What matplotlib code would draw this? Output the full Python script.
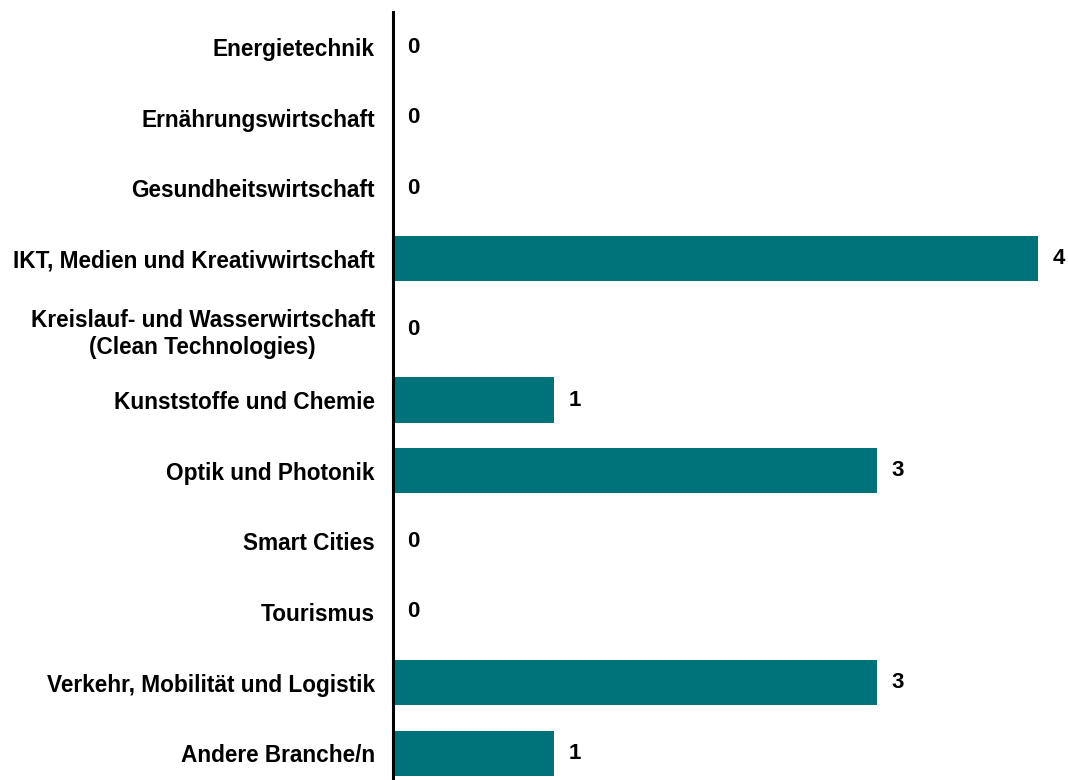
import matplotlib.pyplot as plt

categories = [
    "Energietechnik",
    "Ernährungswirtschaft",
    "Gesundheitswirtschaft",
    "IKT, Medien und Kreativwirtschaft",
    "Kreislauf- und Wasserwirtschaft\n(Clean Technologies)",
    "Kunststoffe und Chemie",
    "Optik und Photonik",
    "Smart Cities",
    "Tourismus",
    "Verkehr, Mobilität und Logistik",
    "Andere Branche/n",
]
values = [0, 0, 0, 4, 0, 1, 3, 0, 0, 3, 1]

plt.rcParams['font.family'] = ['Liberation Sans', 'DejaVu Sans']

fig = plt.figure(figsize=(10.68, 7.8), dpi=100)
ax = fig.add_axes([393 / 1068, 0, (1038 - 393) / 1068, 1 - 12 / 780])

y = list(range(len(categories)))
ax.barh(y, values, height=0.64, color='#00727a')

for yi, v in zip(y, values):
    ax.annotate(str(v), (v, yi), xytext=(10.5, 0), textcoords='offset points',
                va='center', ha='left', fontsize=16, fontweight='bold')

ax.set_xlim(0, 4)
ax.set_ylim(10.38, -0.496)
ax.set_yticks(y)
ax.set_yticklabels(categories, fontsize=16.3, fontweight='bold', ha='right')
ax.tick_params(axis='y', length=0, pad=13)
for lbl in ax.get_yticklabels():
    lbl.set_multialignment('center')
ax.set_xticks([])

for s in ['top', 'right', 'bottom']:
    ax.spines[s].set_visible(False)
ax.spines['left'].set_linewidth(2.2)

fig.savefig('out.png', dpi=100)
